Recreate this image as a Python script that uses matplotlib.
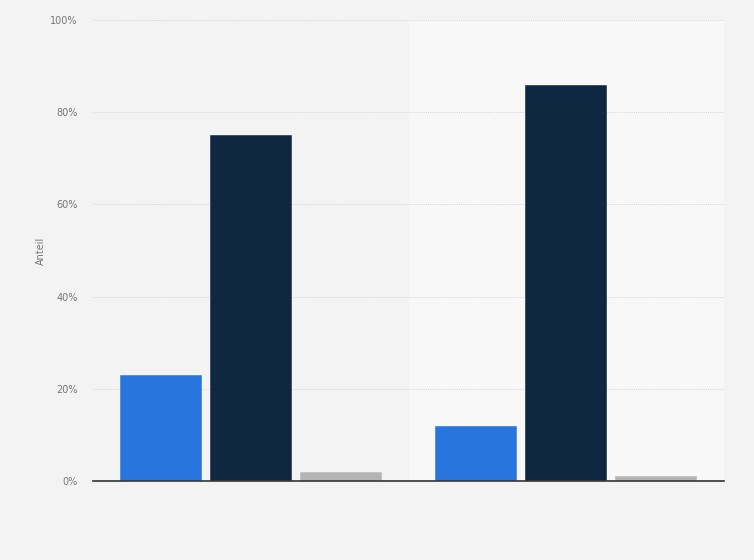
import matplotlib
matplotlib.use("Agg")
import matplotlib.pyplot as plt
import numpy as np

groups = ["Gruppe 1", "Gruppe 2"]
series_a = [23, 12]
series_b = [75, 86]
series_c = [2, 1]
colors = ["#2876dd", "#0f2741", "#b4b4b4"]
yticks = [0, 20, 40, 60, 80, 100]
ytick_labels = ["0%", "20%", "40%", "60%", "80%", "100%"]

fig = plt.figure(figsize=(7.54, 5.60), dpi=100)
fig.patch.set_facecolor("#f3f3f3")
ax = fig.add_axes([93/754, 1-481/560, (724-93)/754, (481-20)/560])
ax.set_facecolor("#f3f3f3")

x = np.arange(len(groups))
w = 0.26
off = 0.285
ax.axvspan(0.5, 1.5, color="#f8f8f8", zorder=0)
for i, (vals, c) in enumerate(zip([series_a, series_b, series_c], colors)):
    ax.bar(x + (i-1)*off, vals, width=w, color=c, zorder=3,
           edgecolor="#ffffff", linewidth=0.3)

ax.set_xlim(-0.5, 1.5)
ax.set_ylim(0, 100)
ax.set_yticks(yticks)
ax.set_yticklabels(ytick_labels, fontsize=7, color="#777777")
ax.set_xticks([])
ax.tick_params(axis="y", length=0, pad=11)
ax.grid(axis="y", color="#d6d6d6", linestyle=(0, (1, 1)), linewidth=0.7, zorder=1)
for s in ["top", "right", "left"]:
    ax.spines[s].set_visible(False)
ax.spines["bottom"].set_color("#333333")
ax.spines["bottom"].set_linewidth(1.2)
ax.spines["bottom"].set_zorder(4)
ax.set_ylabel("Anteil", fontsize=7, color="#777777", labelpad=3)

fig.savefig("out.png", dpi=100, facecolor=fig.get_facecolor())
